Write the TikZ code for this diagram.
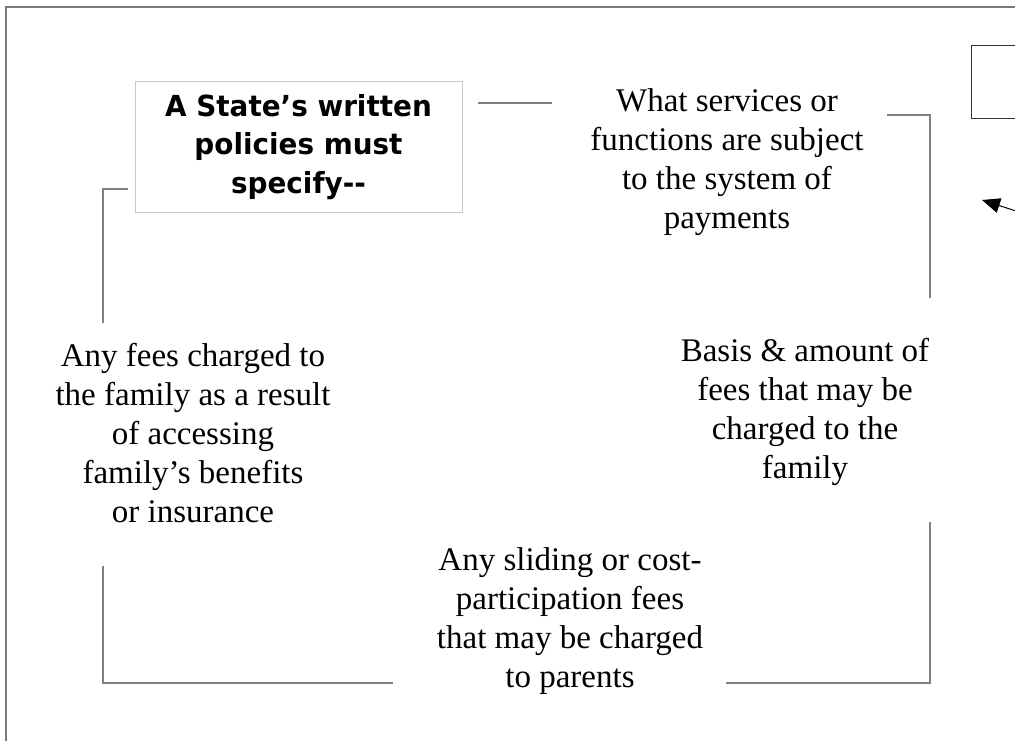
\documentclass[tikz,border=0pt]{standalone}
\usepackage{fontspec}
\setmainfont{Liberation Serif}
\newfontfamily\titlefont[FakeStretch=0.96]{DejaVu Sans}
\usetikzlibrary{arrows.meta}
\definecolor{framegray}{HTML}{7A7A7A}
\definecolor{linegray}{HTML}{808080}
\definecolor{boxgray}{HTML}{C8C8C8}
\tikzset{
  serif/.style={align=center, inner sep=0pt, font=\fontsize{33}{39}\selectfont},
  titlebox/.style={draw=boxgray, line width=1pt, minimum width=327pt, minimum height=131pt, align=center, inner sep=0pt, font=\titlefont\bfseries\fontsize{29}{38.5}\selectfont},
  bracket/.style={draw=linegray, line width=1.3pt},
}
\begin{document}
\begin{tikzpicture}[x=1pt,y=-1pt]
\useasboundingbox (0,0) rectangle (1015,740);
\fill[white] (0,0) rectangle (1015,740);
\begin{scope}
\clip (0,0) rectangle (1015,740);
\draw[framegray, line width=2.6pt] (6,7) rectangle (1040,770);
\node[draw=black!80, line width=1.2pt, minimum width=60pt, minimum height=73pt, inner sep=0pt, anchor=north west] (small) at (971,45) {};
\end{scope}

\node[titlebox] (title) at (298.5,147) {A State’s written\\policies must\\specify-{}-};
\node[serif] (services) at (727,162) {What services or\\functions are subject\\to the system of\\payments};
\node[serif] (basis) at (805,412) {Basis \& amount of\\fees that may be\\charged to the\\family};
\node[serif] (sliding) at (570,621) {Any sliding or cost-\\participation fees\\that may be charged\\to parents};
\node[serif] (anyfees) at (193,433) {Any fees charged to\\the family as a result\\of accessing\\family’s benefits\\or insurance};

\coordinate (a1) at (478,103);
\coordinate (a2) at (552,103);
\coordinate (b1) at (887,115);
\coordinate (b2) at (930,115);
\coordinate (b3) at (930,298);
\coordinate (c1) at (930,522);
\coordinate (c2) at (930,683);
\coordinate (c3) at (726,683);
\coordinate (d1) at (393,683);
\coordinate (d2) at (103,683);
\coordinate (d3) at (103,566);
\coordinate (e1) at (103,323);
\coordinate (e2) at (103,189);
\coordinate (e3) at (128,189);
\coordinate (arrtail) at (1016,211);
\coordinate (arrtip) at (982,200);

\draw[bracket] (a1) -- (a2);
\draw[bracket] (b1) -- (b2) -- (b3);
\draw[bracket] (c1) -- (c2) -- (c3);
\draw[bracket] (d1) -- (d2) -- (d3);
\draw[bracket] (e1) -- (e2) -- (e3);
\draw[black, line width=1pt, -{Triangle[length=18pt, width=15pt]}] (arrtail) -- (arrtip);
\end{tikzpicture}
\end{document}
